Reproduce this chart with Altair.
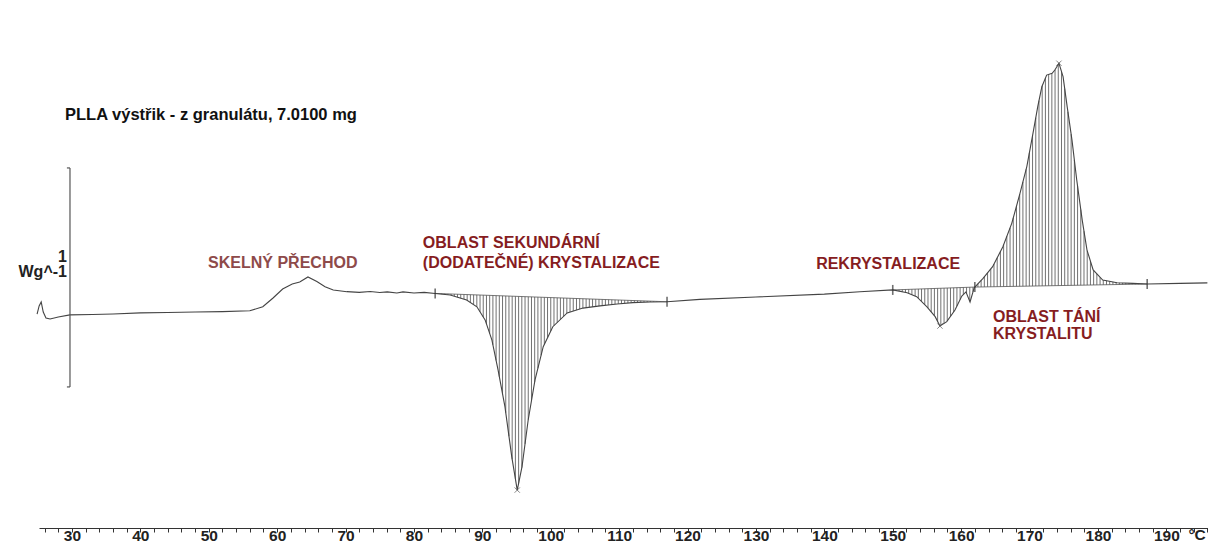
import altair as alt
import pandas as pd
import numpy as np

# DSC curve: temperature (°C) and heat flow (W/g, relative)
temp = [24.9, 25.2, 25.5, 25.8, 26.2, 26.8, 28.0, 29.7, 33.0, 36.0, 40.0, 44.0, 48.0, 52.0, 56.0,
        57.9, 59.4, 60.8, 62.2, 63.3, 64.5, 65.8, 67.0, 68.2, 70.2, 72.0, 73.6, 75.0, 76.1, 77.5,
        78.4, 80.0, 81.5, 83.1, 85.3, 87.7, 89.2, 90.4, 91.4, 92.3, 93.3, 94.3, 95.1, 95.8, 96.7,
        97.7, 98.9, 100.3, 102.4, 104.7, 107.2, 109.7, 112.0, 114.5, 117.0, 121.8, 130.0, 140.0,
        145.2, 150.0, 152.1, 153.5, 155.0, 156.2, 156.9, 157.9, 159.1, 160.1, 160.7, 161.3, 161.9,
        162.0, 163.2, 164.6, 166.1, 167.4, 168.6, 169.6, 170.5, 171.2, 171.8, 172.5, 173.3, 173.7,
        174.3, 174.9, 175.5, 176.2, 176.9, 177.7, 178.4, 179.3, 180.7, 182.8, 185.1, 187.2, 192.0,
        196.0]
heat = [-0.064, -0.027, -0.009, -0.055, -0.082, -0.087, -0.078, -0.068, -0.066, -0.064, -0.059,
        -0.057, -0.055, -0.053, -0.049, -0.031, 0.009, 0.050, 0.073, 0.082, 0.105, 0.084, 0.061,
        0.046, 0.038, 0.035, 0.039, 0.034, 0.037, 0.032, 0.037, 0.032, 0.035, 0.030, 0.023, 0.000,
        -0.031, -0.091, -0.183, -0.320, -0.487, -0.716, -0.868, -0.761, -0.548, -0.365, -0.213,
        -0.122, -0.059, -0.037, -0.027, -0.018, -0.012, -0.009, -0.008, 0.003, 0.014, 0.027, 0.038,
        0.046, 0.033, 0.015, -0.031, -0.076, -0.119, -0.099, -0.046, 0.018, 0.037, -0.009, 0.055,
        0.059, 0.099, 0.152, 0.243, 0.350, 0.487, 0.609, 0.761, 0.883, 0.974, 1.027, 1.035, 1.050,
        1.081, 1.020, 0.883, 0.731, 0.548, 0.365, 0.228, 0.137, 0.091, 0.079, 0.076, 0.073, 0.076,
        0.078]

# integration limits (°C) and peak temperatures
region_start = [83.1, 150.0, 162.0]
region_end = [117.0, 162.0, 187.2]
peak_temp = [95.1, 156.9, 174.3]

# annotations
title_text = "PLLA výstřik - z granulátu, 7.0100 mg"
labels = ["SKELNÝ PŘECHOD", "OBLAST SEKUNDÁRNÍ", "(DODATEČNÉ) KRYSTALIZACE",
          "REKRYSTALIZACE", "OBLAST TÁNÍ", "KRYSTALITU"]
label_t = [49.9, 81.3, 81.3, 138.8, 164.65, 164.65]
label_v = [0.169, 0.260, 0.169, 0.164, -0.078, -0.155]
label_col = ["#8e4a4a", "#861d1f", "#861d1f", "#861d1f", "#861d1f", "#861d1f"]

scale_bar_t = 29.71
scale_bar_top = 0.603
scale_bar_bottom = -0.397

XDOM = [25.18, 196.09]
YDOM = [-1.0411, 1.3333]

t_arr = np.array(temp)
h_arr = np.array(heat)

curve = pd.DataFrame({"T": temp, "H": heat})

# hatching between curve and integration baseline
rows = []
for s, e in zip(region_start, region_end):
    hs, he = np.interp(s, t_arr, h_arr), np.interp(e, t_arr, h_arr)
    for x in np.arange(s + 0.45, e, 0.47):
        c = float(np.interp(x, t_arr, h_arr))
        b = float(hs + (he - hs) * (x - s) / (e - s))
        rows.append({"T": float(x), "H": c, "B": b})
hatch = pd.DataFrame(rows)

bases = pd.DataFrame({
    "T": region_start, "T2": region_end,
    "H": [float(np.interp(s, t_arr, h_arr)) for s in region_start],
    "H2": [float(np.interp(e, t_arr, h_arr)) for e in region_end],
})

lims = sorted(set(region_start + region_end))
limits = pd.DataFrame({"T": lims, "H": [float(np.interp(x, t_arr, h_arr)) for x in lims]})
peaks = pd.DataFrame({"T": peak_temp, "H": [float(np.interp(x, t_arr, h_arr)) for x in peak_temp]})

xs = alt.Scale(domain=XDOM, nice=False, zero=False)
ys = alt.Scale(domain=YDOM, nice=False, zero=False)

xaxis = alt.Axis(
    values=list(range(26, 197, 2)),
    labelExpr="datum.value % 10 === 0 ? datum.label : ''",
    domainColor="#333333", tickColor="#333333", tickSize=4, tickWidth=1,
    labelFontSize=15.5, labelFontWeight="bold", labelFont="Liberation Sans",
    labelColor="#222222", labelPadding=-4, labelOverlap=False, labelFlush=False,
    grid=False, title=None,
)

X = alt.X("T:Q", scale=xs, axis=xaxis)
Y = alt.Y("H:Q", scale=ys, axis=None)

hatch_layer = alt.Chart(hatch).mark_rule(color="#575757", strokeWidth=0.85).encode(
    x=X, y=Y, y2="B:Q")

base_layer = alt.Chart(bases).mark_rule(color="#555555", strokeWidth=0.8).encode(
    x=X, y=Y, x2="T2:Q", y2="H2:Q")

line_layer = alt.Chart(curve).mark_line(color="#444444", strokeWidth=1.1).encode(
    x=X, y=Y, order="T:Q")

limit_layer = alt.Chart(limits).mark_tick(color="#333333", orient="vertical", size=10,
                                          thickness=1.6).encode(x=X, y=Y)

peak_layer = alt.Chart(peaks).mark_point(shape="M-1,-1L1,1M1,-1L-1,1", size=28, filled=False,
                                         color="#555555", strokeWidth=1).encode(x=X, y=Y)

# scale bar
bar_df = pd.DataFrame({"T": [scale_bar_t], "H": [scale_bar_top], "H2": [scale_bar_bottom]})
bar_layer = alt.Chart(bar_df).mark_rule(color="#555555", strokeWidth=1.2).encode(
    x=X, y=Y, y2="H2:Q")
serif_df = pd.DataFrame({"T": [scale_bar_t - 0.45, scale_bar_t - 0.45],
                         "T2": [scale_bar_t, scale_bar_t],
                         "H": [scale_bar_top, scale_bar_bottom]})
serif_layer = alt.Chart(serif_df).mark_rule(color="#555555", strokeWidth=1.2).encode(
    x=X, x2="T2:Q", y=Y)

ann = pd.DataFrame({"T": label_t, "H": label_v, "txt": labels, "col": label_col})
ann_layer = alt.Chart(ann).mark_text(align="left", baseline="middle", fontSize=16,
                                     fontWeight="bold", font="Liberation Sans").encode(
    x=X, y=Y, text="txt:N", color=alt.Color("col:N", scale=None))

title_df = pd.DataFrame({"T": [28.98], "H": [0.845], "txt": [title_text]})
title_layer = alt.Chart(title_df).mark_text(align="left", baseline="middle", fontSize=16.5,
                                            fontWeight="bold", font="Liberation Sans",
                                            color="#111111").encode(x=X, y=Y, text="txt:N")

unit_df = pd.DataFrame({"T": [29.27, 29.27], "H": [0.196, 0.128], "txt": ["1", "Wg^-1"]})
unit_layer = alt.Chart(unit_df).mark_text(align="right", baseline="middle", fontSize=16,
                                          fontWeight="bold", font="Liberation Sans",
                                          color="#222222").encode(x=X, y=Y, text="txt:N")

degc_df = pd.DataFrame({"T": [194.5], "H": [-1.075], "txt": ["°C"]})
degc_layer = alt.Chart(degc_df).mark_text(align="center", baseline="middle", fontSize=15.5,
                                          fontWeight="bold", font="Liberation Sans",
                                          color="#222222").encode(x=X, y=Y, text="txt:N")

chart = alt.layer(
    hatch_layer, base_layer, line_layer, limit_layer, peak_layer, bar_layer, serif_layer,
    ann_layer, title_layer, unit_layer, degc_layer,
).properties(
    width=1169, height=520,
    padding={"left": 31, "top": 0, "right": 0, "bottom": 15},
    autosize=alt.AutoSizeParams(type="none"),
    background="white",
).configure_view(stroke=None)

chart.save("out.html", embed_options={"renderer": "svg", "actions": False})
